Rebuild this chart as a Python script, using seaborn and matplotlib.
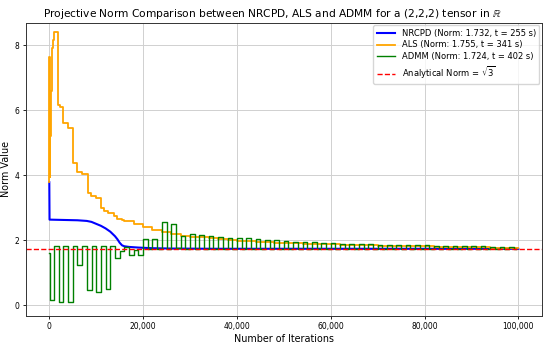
import numpy as np
import pandas as pd
import matplotlib
matplotlib.use("Agg")
import matplotlib.pyplot as plt
from matplotlib.ticker import FuncFormatter
import seaborn as sns

# ---------------- data ----------------
nrcpd_iter = [0, 50, 3000, 6000, 8000, 9000, 10000, 11000, 12000, 13000, 14000,
              14500, 15000, 15500, 16000, 17000, 19000, 22000, 26000, 35000, 100000]
nrcpd_norm = [3.78, 2.63, 2.62, 2.61, 2.59, 2.56, 2.50, 2.44, 2.36, 2.26, 2.12,
              2.03, 1.92, 1.84, 1.81, 1.79, 1.77, 1.75, 1.74, 1.733, 1.732]

als_iter = [0, 40, 120, 250, 400, 550, 700, 900, 1900, 2300, 2850, 3900, 4950,
            5800, 6950, 8150, 8850, 9950, 11100, 11600, 12500, 13700, 14500, 15500,
            16000, 18000, 20000, 22000, 24000, 26000, 28000, 30000, 32000, 34000,
            36000, 38000, 40000, 42000, 44000, 46000, 48000, 50000, 52000, 54000,
            56000, 58000, 60000, 62000, 64000, 66000, 68000, 70000, 72000, 74000,
            76000, 78000, 80000, 82000, 84000, 86000, 88000, 90000, 92000, 94000,
            96000, 98000, 100000]
als_norm = [3.78, 7.62, 3.95, 5.20, 6.60, 7.90, 8.15, 8.41, 6.15, 6.10, 5.60, 5.45,
            4.37, 4.11, 4.04, 3.44, 3.36, 3.29, 2.98, 2.90, 2.84, 2.74, 2.66, 2.62,
            2.58, 2.50, 2.40, 2.32, 2.25, 2.19, 2.14, 2.11, 2.08, 2.05, 2.02, 2.00,
            1.98, 1.96, 1.95, 1.93, 1.92, 1.91, 1.90, 1.89, 1.88, 1.87, 1.87, 1.86,
            1.85, 1.85, 1.84, 1.83, 1.83, 1.82, 1.82, 1.81, 1.81, 1.80, 1.80, 1.79,
            1.79, 1.78, 1.78, 1.77, 1.77, 1.76, 1.76]

# ADMM: one value per 1000-iteration block (plus the starting value)
admm_start = 1.60
admm_block = [0.15, 1.81, 0.10, 1.81, 0.10, 1.81, 1.24, 1.81, 0.47, 1.81,
              0.41, 1.81, 0.49, 1.81, 1.45, 1.66, 1.79, 1.55, 1.71, 1.55,
              2.02, 1.74, 2.02, 1.74, 2.56, 1.74, 2.50, 1.76, 2.14, 1.74,
              2.19, 1.74, 2.17, 1.73, 2.12, 1.72, 2.08, 1.74, 2.05, 1.73,
              2.05, 1.74, 2.06, 1.73, 2.02, 1.74, 2.00, 1.73, 1.99, 1.74,
              1.97, 1.73, 1.95, 1.74, 1.94, 1.73, 1.93, 1.74, 1.91, 1.73,
              1.90, 1.74, 1.89, 1.73, 1.88, 1.74, 1.88, 1.73, 1.87, 1.74,
              1.86, 1.73, 1.86, 1.74, 1.85, 1.73, 1.85, 1.74, 1.84, 1.73,
              1.84, 1.74, 1.83, 1.73, 1.83, 1.74, 1.82, 1.73, 1.82, 1.74,
              1.81, 1.73, 1.81, 1.74, 1.80, 1.73, 1.80, 1.74, 1.79, 1.73]
admm_block_len = 1000

analytical = np.sqrt(3)

labels = ["NRCPD (Norm: 1.732, t = 255 s)",
          "ALS (Norm: 1.755, t = 341 s)",
          "ADMM (Norm: 1.724, t = 402 s)",
          r"Analytical Norm = $\sqrt{3}$"]

# ---------------- build ADMM series ----------------
admm_iter = ([0, 50] + [k * admm_block_len for k in range(1, len(admm_block))]
             + [len(admm_block) * admm_block_len - 500])
admm_norm = [admm_start] + admm_block + [admm_block[-1]]

# ---------------- plot ----------------
fig, ax = plt.subplots(figsize=(5.5, 3.44), dpi=100)
fig.subplots_adjust(left=0.047, right=0.985, bottom=0.081, top=0.934)

sns.lineplot(x=nrcpd_iter, y=nrcpd_norm, ax=ax, color="blue", lw=1.5,
             label=labels[0], estimator=None, sort=False, errorbar=None)
sns.lineplot(x=als_iter, y=als_norm, ax=ax, color="orange", lw=1.3,
             label=labels[1], estimator=None, sort=False, errorbar=None,
             drawstyle="steps-post")
sns.lineplot(x=admm_iter, y=admm_norm, ax=ax, color="green", lw=1.0,
             label=labels[2], estimator=None, sort=False, errorbar=None,
             drawstyle="steps-post")
ax.axhline(analytical, color="red", ls="--", lw=1.0, label=labels[3])

ax.set_ylim(-0.34, 8.69)
ax.set_title(r"Projective Norm Comparison between NRCPD, ALS and ADMM for a (2,2,2) tensor in $\mathbb{R}$",
             fontsize=7.65, pad=4, x=0.478)
ax.set_xlabel("Number of Iterations", fontsize=6.9, labelpad=2)
ax.set_ylabel("Norm Value", fontsize=6.9, labelpad=3)
ax.xaxis.set_major_formatter(FuncFormatter(lambda v, p: f"{v:,.0f}"))
ax.tick_params(labelsize=5.5, length=2.5, width=0.6, pad=2)
ax.grid(True, color="#d0d0d0", lw=0.7)
for s in ax.spines.values():
    s.set_linewidth(0.7)
    s.set_color("#333333")
ax.legend(loc="upper right", fontsize=6.0, handlelength=2.2, borderpad=0.4,
          labelspacing=0.35, framealpha=0.8, borderaxespad=0.3)

fig.savefig("out.png", dpi=100)
